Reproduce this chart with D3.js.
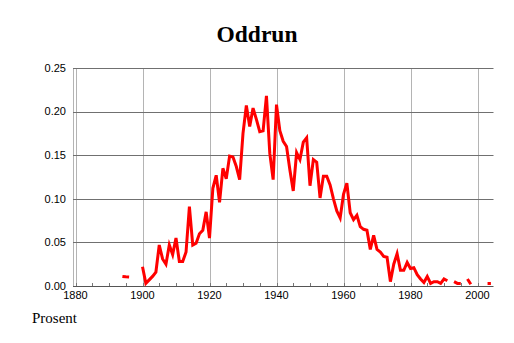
<!DOCTYPE html>
<html>
<head>
<meta charset="utf-8">
<script src="https://cdn.jsdelivr.net/npm/d3@7"></script>
<style>
  html, body { margin: 0; padding: 0; background: #fff; }
  svg { display: block; }
</style>
</head>
<body>
<svg id="chart" width="514" height="343"></svg>
<script>
// ---- data ----
const title = "Oddrun";
const yLabel = "Prosent";
const startYear = 1894;
const values = [
  0.011, 0.0105, 0.0102, null, null, null,                       // 1894-1899
  0.022, 0.003, 0.007, 0.011, 0.016, 0.047, 0.031, 0.025, 0.047, 0.036, // 1900-1909
  0.055, 0.028, 0.028, 0.039, 0.091, 0.047, 0.049, 0.060, 0.064, 0.085, // 1910-1919
  0.055, 0.112, 0.127, 0.096, 0.135, 0.123, 0.149, 0.148, 0.137, 0.122, // 1920-1929
  0.175, 0.207, 0.183, 0.204, 0.191, 0.177, 0.178, 0.218, 0.152, 0.122, // 1930-1939
  0.208, 0.178, 0.166, 0.160, 0.133, 0.109, 0.153, 0.145, 0.165, 0.170, // 1940-1949
  0.115, 0.145, 0.142, 0.101, 0.126, 0.126, 0.116, 0.100, 0.086, 0.078, // 1950-1959
  0.105, 0.118, 0.084, 0.076, 0.081, 0.068, 0.065, 0.064, 0.042, 0.058, // 1960-1969
  0.042, 0.039, 0.034, 0.033, 0.005, 0.025, 0.037, 0.018, 0.018, 0.027, // 1970-1979
  0.020, 0.021, 0.013, 0.008, 0.004, 0.011, 0.003, 0.005, 0.005, 0.003, // 1980-1989
  0.008, 0.006, null, 0.005, 0.003, 0.003, null, 0.008, 0.002, null,    // 1990-1999
  null, null, null, 0.003, 0.003                                          // 2000-2004
];
const years = values.map((v, i) => startYear + i);
const xTicks = [1880, 1900, 1920, 1940, 1960, 1980, 2000];
const yTicks = [0, 0.05, 0.10, 0.15, 0.20, 0.25];

// ---- layout ----
const plot = { left: 73, right: 493.5, top: 68, bottom: 286 };
const svg = d3.select("#chart");

const x = d3.scaleLinear().domain([1900, 2000]).range([142.5, 477.5]);
const y = d3.scaleLinear().domain([0, 0.25]).range([plot.bottom, plot.top]);

// vertical grid lines (light)
svg.append("g").selectAll("line").data(xTicks).join("line")
  .attr("x1", d => Math.round(x(d)) + 0.5).attr("x2", d => Math.round(x(d)) + 0.5)
  .attr("y1", plot.top).attr("y2", plot.bottom)
  .attr("stroke", "#b4b4b4").attr("stroke-width", 1);

// left axis line
svg.append("line")
  .attr("x1", plot.left + 0.5).attr("x2", plot.left + 0.5)
  .attr("y1", plot.top).attr("y2", plot.bottom)
  .attr("stroke", "#b4b4b4");

// horizontal grid lines (dark)
svg.append("g").selectAll("line").data(yTicks).join("line")
  .attr("x1", plot.left).attr("x2", plot.right)
  .attr("y1", d => Math.round(y(d)) + 0.5).attr("y2", d => Math.round(y(d)) + 0.5)
  .attr("stroke", d => d === 0 ? "#555" : "#707070").attr("stroke-width", 1);

// minor ticks every 5 years
const minor = d3.range(1880, 2005, 5);
svg.append("g").selectAll("line").data(minor).join("line")
  .attr("x1", d => Math.round(x(d)) + 0.5).attr("x2", d => Math.round(x(d)) + 0.5)
  .attr("y1", plot.bottom - 3).attr("y2", plot.bottom)
  .attr("stroke", "#777");

// y tick labels
svg.append("g").selectAll("text").data(yTicks).join("text")
  .attr("x", 66).attr("y", d => y(d))
  .attr("dy", "0.35em")
  .attr("text-anchor", "end")
  .attr("font-family", "Liberation Sans, Arial, sans-serif")
  .attr("font-size", 11)
  .attr("fill", "#000")
  .text(d => d3.format(".2f")(d));

// x tick labels
svg.append("g").selectAll("text").data(xTicks).join("text")
  .attr("x", d => x(d)).attr("y", 299)
  .attr("text-anchor", "middle")
  .attr("font-family", "Liberation Sans, Arial, sans-serif")
  .attr("font-size", 11)
  .attr("fill", "#000")
  .text(d => d);

// line
const data = years.map((yr, i) => ({ year: yr, value: values[i] }));
const line = d3.line()
  .defined(d => d.value !== null)
  .x(d => x(d.year))
  .y(d => y(d.value));
svg.append("path")
  .datum(data)
  .attr("fill", "none")
  .attr("stroke", "#ff0000")
  .attr("stroke-width", 3)
  .attr("stroke-linejoin", "miter")
  .attr("d", line);

// title
svg.append("text")
  .attr("x", 257).attr("y", 42)
  .attr("text-anchor", "middle")
  .attr("font-family", "Liberation Serif, Times New Roman, serif")
  .attr("font-weight", "bold")
  .attr("font-size", 23.5)
  .text(title);

// y label
svg.append("text")
  .attr("x", 32).attr("y", 323)
  .attr("font-family", "Liberation Serif, Times New Roman, serif")
  .attr("font-size", 15)
  .text(yLabel);
</script>
</body>
</html>
